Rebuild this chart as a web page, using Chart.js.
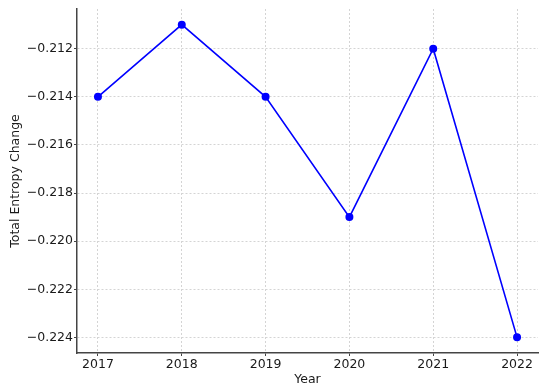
<!DOCTYPE html>
<html lang="en">
<head>
    <script src="https://cdn.jsdelivr.net/npm/chart.js@4.4.0/dist/chart.umd.min.js"></script>
    <title>Total Entropy Change</title>
    <style>
        body { margin: 0; background: #fff; }
        #wrap { width: 550px; height: 392px; }
    </style>
</head>
<body>
<div id="wrap"><canvas id="myChart"></canvas></div>
<script>
    const years = [2017, 2018, 2019, 2020, 2021, 2022];
    const entropyValues = [-0.214, -0.211, -0.214, -0.219, -0.212, -0.224];
    const yTicks = [-0.224, -0.222, -0.220, -0.218, -0.216, -0.214, -0.212];

    const fontFamily = "'DejaVu Sans', sans-serif";
    const textColor = "#1a1a1a";

    const chart = new Chart("myChart", {
        type: "line",
        data: {
            datasets: [{
                data: years.map((y, i) => ({x: y, y: entropyValues[i]})),
                borderColor: "#0000ff",
                backgroundColor: "#0000ff",
                borderWidth: 1.6,
                pointRadius: 3.2,
                pointHoverRadius: 3.2,
                tension: 0
            }]
        },
        options: {
            responsive: true,
            maintainAspectRatio: false,
            animation: false,
            layout: {padding: {left: 0, top: 9, right: 12, bottom: 0}},
            plugins: {
                legend: {display: false},
                tooltip: {enabled: false}
            },
            scales: {
                x: {
                    type: "linear",
                    min: 2016.75,
                    max: 2022.25,
                    afterBuildTicks: (s) => { s.ticks = years.map(v => ({value: v})); },
                    afterFit: (s) => { s.height = 39; },
                    ticks: {
                        color: textColor,
                        font: {family: fontFamily, size: 12.5},
                        padding: 1,
                        maxRotation: 0,
                        callback: (v) => String(v)
                    },
                    grid: {color: "#d4d4d4", drawTicks: true, tickLength: 3, tickColor: "#444", tickWidth: 1},
                    border: {display: true, color: "#444", width: 1.5, dash: [2, 2]},
                    title: {
                        display: true,
                        text: "Year",
                        color: textColor,
                        font: {family: fontFamily, size: 12.5},
                        padding: {top: 0, bottom: 5}
                    }
                },
                y: {
                    min: -0.22465,
                    max: -0.21035,
                    afterBuildTicks: (s) => { s.ticks = yTicks.map(v => ({value: v})); },
                    afterFit: (s) => { s.width = 77; },
                    ticks: {
                        color: textColor,
                        font: {family: fontFamily, size: 12.5},
                        padding: 1,
                        callback: (v) => "\u2212" + Math.abs(v).toFixed(3)
                    },
                    grid: {color: "#d4d4d4", drawTicks: true, tickLength: 3, tickColor: "#444", tickWidth: 1},
                    border: {display: true, color: "#444", width: 1.5, dash: [2, 2]},
                    title: {
                        display: true,
                        text: "Total Entropy Change",
                        color: textColor,
                        font: {family: fontFamily, size: 12.5},
                        padding: {top: 8, bottom: 0}
                    }
                }
            }
        }
    });
</script>
</body>
</html>
